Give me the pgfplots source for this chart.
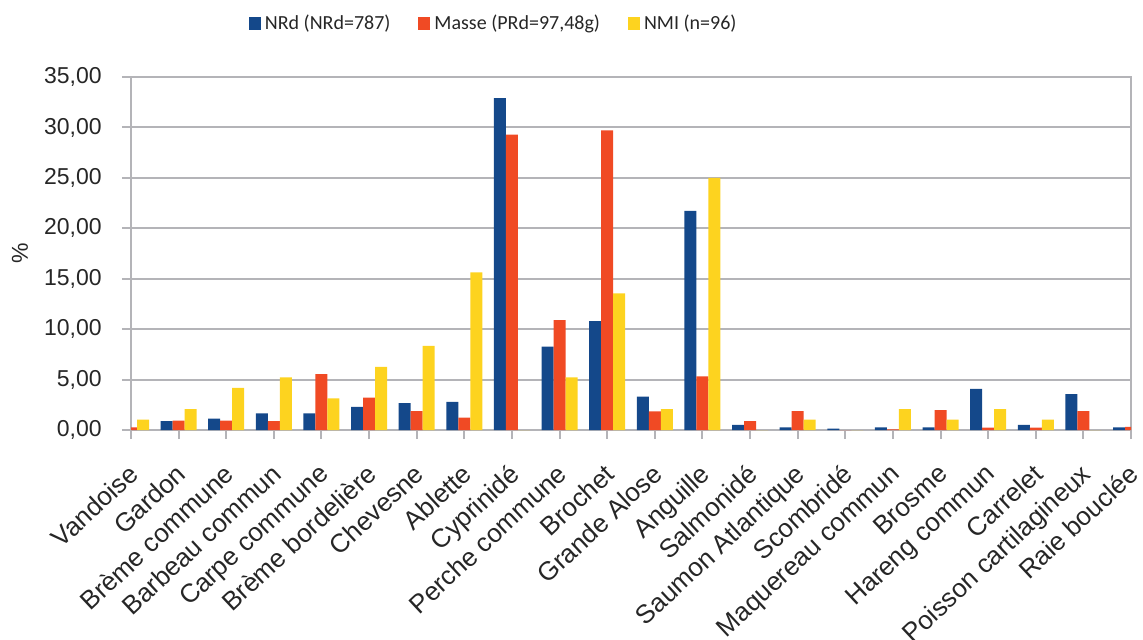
\documentclass[border=0pt]{standalone}
\usepackage{fontspec}
\setmainfont{Liberation Sans}
\newfontfamily\legfont{Carlito}
\usepackage{pgfplots}
\pgfplotsset{compat=1.18}
\definecolor{cblue}{RGB}{20,72,138}
\definecolor{cred}{RGB}{240,74,36}
\definecolor{cyel}{RGB}{253,211,31}
\definecolor{gridgray}{RGB}{180,180,184}
\pgfplotstableread{
x nrd masse nmi
0  0.13 0.25 1.04
1  0.89 0.93 2.08
2  1.14 0.93 4.17
3  1.65 0.87 5.21
4  1.65 5.53 3.13
5  2.29 3.20 6.25
6  2.67 1.87 8.33
7  2.80 1.23 15.63
8  32.91 29.30 0
9  8.26 10.90 5.21
10 10.80 29.70 13.54
11 3.30 1.85 2.08
12 21.73 5.31 25.00
13 0.51 0.87 0
14 0.25 1.87 1.04
15 0.13 0 0
16 0.25 0.06 2.08
17 0.25 1.97 1.04
18 4.07 0.23 2.08
19 0.51 0.23 1.04
20 3.56 1.87 0
21 0.25 0.30 0
}\datatable
\begin{document}
\begin{tikzpicture}
\useasboundingbox (0,0) rectangle (571.5pt,319.5pt);
\begin{axis}[
  at={(65.5pt,104.5pt)}, anchor=south west,
  scale only axis, width=500pt, height=176.5pt,
  xmin=0, xmax=21, ymin=0, ymax=35,
  ybar=0pt, bar width=6pt,
  clip=true,
  xtick={0,...,21},
  xticklabels={Vandoise, Gardon, Brème commune, Barbeau commun, Carpe commune, Brème bordelière, Chevesne, Ablette, Cyprinidé, Perche commune, Brochet, Grande Alose, Anguille, Salmonidé, Saumon Atlantique, Scombridé, Maquereau commun, Brosme, Hareng commun, Carrelet, Poisson cartilagineux, Raie bouclée},
  xticklabel style={xshift=-2pt, yshift=-11.5pt, rotate=43, anchor=north east, inner sep=0pt, font=\fontsize{13}{13}\selectfont, text=black!85},
  ytick={0,5,...,35},
  yticklabel style={anchor=east, inner sep=0pt, font=\fontsize{11.5}{11.5}\selectfont, text=black!85, xshift=-10pt,
    /pgf/number format/.cd, fixed, fixed zerofill, precision=2, use comma},
  /pgf/number format/assume math mode=true,
  tick align=outside, major tick length=4.5pt,
  tick style={gridgray, line width=1pt},
  xtick pos=bottom, ytick pos=left,
  axis line style={gridgray, line width=1pt},
  ymajorgrids, grid style={gridgray, line width=1pt},
  ylabel={\%}, ylabel style={at={(axis description cs:0,0.5)}, anchor=center, yshift=55.5pt, font=\fontsize{11.5}{11.5}\selectfont, text=black!85},
  legend columns=3,
  legend style={at={(0.3637,1.152)}, anchor=center, draw=none, fill=none, font=\legfont\fontsize{10}{10}\selectfont, text=black!85,
    /tikz/every even column/.append style={column sep=12pt}},
  legend image code/.code={\fill[#1] (0pt,-3.3pt) rectangle (6pt,3.3pt);},
]
\addplot[fill=cblue, draw=none] table[x=x,y=nrd]{\datatable};
\addlegendentry{NRd (NRd=787)}
\addplot[fill=cred, draw=none] table[x=x,y=masse]{\datatable};
\addlegendentry{Masse (PRd=97,48g)}
\addplot[fill=cyel, draw=none] table[x=x,y=nmi]{\datatable};
\addlegendentry{NMI (n=96)}
\end{axis}
\end{tikzpicture}
\end{document}
